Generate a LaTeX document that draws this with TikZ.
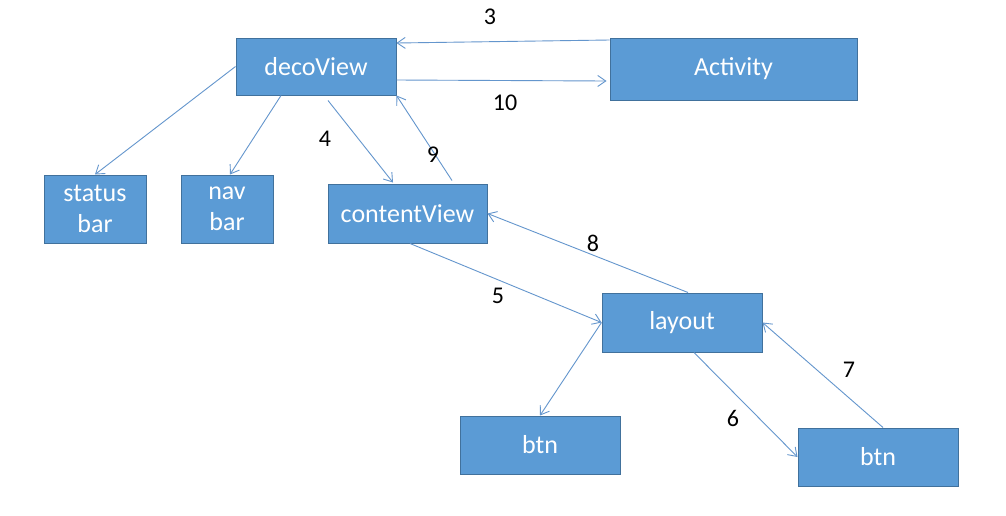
\documentclass[tikz,border=0pt]{standalone}
\usepackage{fontspec}
\setmainfont{Carlito}
\usetikzlibrary{arrows.meta}
\definecolor{boxfill}{RGB}{91,155,213}
\definecolor{boxline}{RGB}{65,113,156}
\definecolor{arrowc}{RGB}{100,150,205}
\begin{document}
\begin{tikzpicture}[x=1pt,y=-1pt,
  box/.style={draw=boxline,fill=boxfill,line width=1pt,rectangle,inner sep=0pt,
    text=white,align=center,font=\fontsize{26}{31}\selectfont},
  conn/.style={draw=arrowc,line width=0.9pt,-{Straight Barb[length=8pt,width=11pt]}},
  lbl/.style={font=\fontsize{24}{26}\selectfont,text=black,inner sep=0pt}]
\fill[white] (0,0) rectangle (1006,515);
\useasboundingbox (0,0) rectangle (1006,515);
\node[box,minimum width=160pt,minimum height=57pt] (deco) at (316,66.5) {decoView};
\node[box,minimum width=247pt,minimum height=62pt] (act) at (733.5,69) {Activity};
\node[box,minimum width=102pt,minimum height=68pt] (status) at (95,209) {status\\bar};
\node[box,minimum width=92pt,minimum height=68pt] (nav) at (227,209) {nav\\bar};
\node[box,minimum width=159pt,minimum height=59pt] (content) at (407.5,213.5) {contentView};
\node[box,minimum width=160pt,minimum height=59pt] (layout) at (682,322.5) {layout};
\node[box,minimum width=160pt,minimum height=58pt] (btna) at (540,445) {btn};
\node[box,minimum width=160pt,minimum height=58pt] (btnb) at (878,457) {btn};
% connectors
\draw[conn] ([yshift=29pt]act.west) -- ([yshift=23.5pt]deco.east);
\draw[conn] ([yshift=-13.5pt]deco.east) -- ([xshift=-3pt,yshift=-12pt]act.west);
\draw[conn] (deco.west) -- (status.north);
\draw[conn] ([xshift=-35pt]deco.south) -- ([xshift=3pt]nav.north);
\draw[conn] ([xshift=12pt,yshift=-5pt]deco.south) -- ([xshift=-14.5pt,yshift=1pt]content.north);
\draw[conn] ([xshift=44.5pt,yshift=3pt]content.north) -- (deco.south east);
\draw[conn] ([xshift=6pt]layout.north) -- (content.east);
\draw[conn] ([xshift=2.5pt]content.south) -- (layout.west);
\draw[conn] (layout.west) -- (btna.north);
\draw[conn] ([xshift=12pt]layout.south) -- (btnb.west);
\draw[conn] ([xshift=5pt]btnb.north) -- (layout.east);
% labels
\node[lbl] (l3) at (490,17) {3};
\node[lbl] (l10) at (505,103) {10};
\node[lbl] (l4) at (325,139) {4};
\node[lbl] (l9) at (433,155) {9};
\node[lbl] (l8) at (593,243) {8};
\node[lbl] (l5) at (498,296) {5};
\node[lbl] (l7) at (849,370) {7};
\node[lbl] (l6) at (733,418) {6};
\end{tikzpicture}
\end{document}
